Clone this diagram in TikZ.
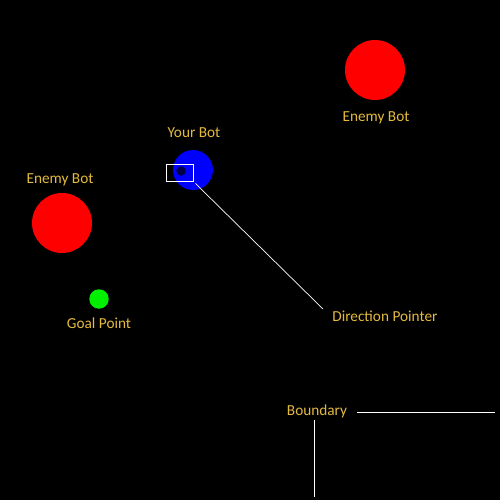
\documentclass[tikz,border=0pt]{standalone}
\usepackage{fontspec}
\setmainfont{Carlito}

\begin{document}
\begin{tikzpicture}[x=0.02cm, y=-0.02cm]

% Colors
\definecolor{label}{RGB}{228,186,62}   % label text
\definecolor{enemy}{RGB}{255,0,0}      % red
\definecolor{mybot}{RGB}{0,0,255}      % blue
\definecolor{goal}{RGB}{0,240,0}       % green
\definecolor{eye}{RGB}{0,0,70}         % dark blue

\tikzset{
  tag/.style={text=label, inner sep=0pt, font=\fontsize{8.7}{10}\selectfont},
  bot/.style={circle, inner sep=0pt, draw=none}
}

% === Background ===
\fill[black] (0,0) rectangle (500,500);

% === Enemy bots ===
\node[bot, fill=enemy, minimum size=1.2cm] (enemyA) at (375,70) {};
\node[tag] (enemyAtag) at (376,118) {Enemy Bot};

\node[bot, fill=enemy, minimum size=1.2cm] (enemyB) at (62,223) {};
\node[tag] (enemyBtag) at (60,180) {Enemy Bot};

% === Your bot ===
\node[bot, fill=mybot, minimum size=0.8cm] (me) at (193,170) {};
\node[bot, fill=eye, minimum size=0.19cm] (eye) at (181,171) {};
\node[draw=white, line width=0.5pt, minimum width=0.54cm, minimum height=0.34cm, inner sep=0pt] (ptr) at (179.5,172.5) {};
\node[tag] (metag) at (194,133) {Your Bot};

% === Goal ===
\node[bot, fill=goal, minimum size=0.39cm] (goalpt) at (99,299) {};
\node[tag] (goaltag) at (99,323) {Goal Point};

% === Direction pointer ===
\node[tag, anchor=west] (dirtag) at (332,316) {Direction Pointer};
\coordinate (tip) at (323,309);
\draw[white, line width=0.4pt] (ptr.south east) ++(2,2) -- (tip);

% === Boundary ===
\node[tag] (boundtag) at (317,411) {Boundary};
\draw[white, line width=0.45pt] (357,412) -- (495,412);
\draw[white, line width=0.45pt] (314,420) -- (314,497);

\end{tikzpicture}
\end{document}
